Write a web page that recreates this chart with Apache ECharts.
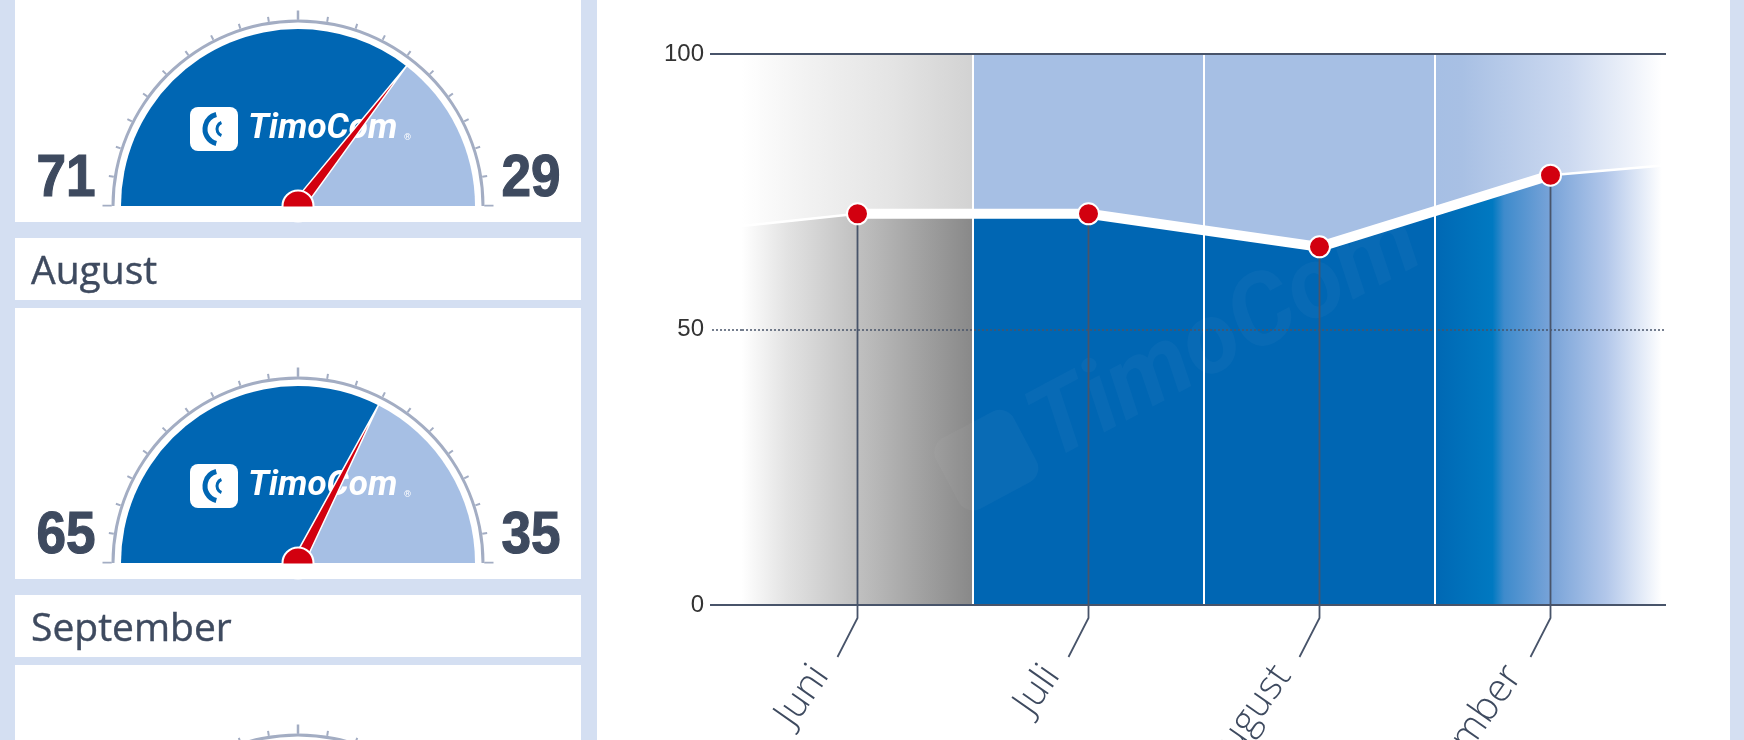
<!DOCTYPE html>
<html><head><meta charset="utf-8">
<script src="https://cdn.jsdelivr.net/npm/echarts@6/dist/echarts.min.js"></script>
<style>html,body{margin:0;padding:0;background:#fff}#c{width:1744px;height:740px}</style>
</head><body><div id="c"></div>
<script>
// ---------- data ----------
const months = ['Juni', 'Juli', 'August', 'September'];
const shareValues = [71, 71, 65, 78];      // line points (%)
const edgeValues = [68.8, 79.8];           // boundary value where it leaves the plot (left, right)
const gaugeLeft = [71, 71, 65, 78];        // big number left of each gauge
const gaugeRight = [29, 29, 35, 22];       // big number right of each gauge
const yTickValues = [0, 50, 100];

// ---------- styling ----------
const DARK = '#0066b3', LIGHT = '#a6bfe4', LAV = '#d4dff2', TXT = '#3e4a5f',
      RED = '#d2000f', AXIS = '#48546a', ARC = '#a3adc3';
const GX = 298;
function hdrTop(k) { return 238 + (k - 2) * 357; }

const LG = (stops) => new echarts.graphic.LinearGradient(0, 0, 1, 0,
  stops.map(s => ({ offset: s[0], color: s[1] })));
const bandStyles = [
  { top: LG([[0, '#ffffff'], [0.3, '#f1f1f1'], [0.65, '#e4e4e4'], [1, '#d2d2d2']]),
    bottom: LG([[0, '#ffffff'], [0.2, '#e2e2e2'], [0.5, '#c0c0c0'], [1, '#888888']]) },
  { top: LIGHT, bottom: DARK },
  { top: LIGHT, bottom: DARK },
  { top: LG([[0, '#a6bfe4'], [0.12, '#a8c0e4'], [0.58, '#ccd9f0'], [0.85, '#eef2fa'], [0.98, '#ffffff']]),
    bottom: LG([[0, '#0068b4'], [0.25, '#0079c1'], [0.3, '#3e8bcc'], [0.5, '#78a3d8'], [0.74, '#b2c7ea'], [0.98, '#ffffff']]) }
];

const chart = echarts.init(document.getElementById('c'));
const series = [];
const graphics = [];

graphics.push({ type: 'rect', z: 0, shape: { x: 0, y: 0, width: 597, height: 740 }, style: { fill: LAV } });
graphics.push({ type: 'rect', z: 0, shape: { x: 1730, y: 0, width: 14, height: 740 }, style: { fill: LAV } });

months.forEach((m, k) => {
  const ht = hdrTop(k);
  const cy = ht + 325;
  graphics.push({ type: 'rect', z: 0, shape: { x: 15, y: ht, width: 566, height: 62 }, style: { fill: '#fff' } });
  graphics.push({ type: 'rect', z: 0, shape: { x: 15, y: ht + 70, width: 566, height: 271 }, style: { fill: '#fff' } });
  graphics.push({ type: 'text', z: 1, x: 31, y: ht + 35, style: {
    text: m, fill: TXT, stroke: TXT, lineWidth: 0.4, font: '39px "Open Sans", sans-serif',
    textVerticalAlign: 'middle', verticalAlign: 'middle' } });
  // big numbers
  graphics.push({ type: 'text', z: 6, x: 66, y: cy - 26, scaleX: 0.9, style: {
    text: String(gaugeLeft[k]), fill: TXT, stroke: TXT, lineWidth: 1.2, font: 'bold 59px "Liberation Sans", Arial, sans-serif',
    textAlign: 'center', align: 'center', textVerticalAlign: 'middle', verticalAlign: 'middle' } });
  graphics.push({ type: 'text', z: 6, x: 531, y: cy - 26, scaleX: 0.9, style: {
    text: String(gaugeRight[k]), fill: TXT, stroke: TXT, lineWidth: 1.2, font: 'bold 59px "Liberation Sans", Arial, sans-serif',
    textAlign: 'center', align: 'center', textVerticalAlign: 'middle', verticalAlign: 'middle' } });
  // logo inside gauge
  graphics.push({ type: 'rect', z: 3, shape: { x: GX - 108, y: cy - 99, width: 48, height: 44, r: 8 }, style: { fill: '#fff' } });
  graphics.push({ type: 'arc', z: 3, shape: { cx: GX - 78, cy: cy - 77, r: 15, startAngle: Math.PI * 0.58, endAngle: Math.PI * 1.42, clockwise: true },
    style: { stroke: DARK, lineWidth: 5, fill: null } });
  graphics.push({ type: 'arc', z: 3, shape: { cx: GX - 74, cy: cy - 77, r: 7, startAngle: Math.PI * 0.62, endAngle: Math.PI * 1.38, clockwise: true },
    style: { stroke: DARK, lineWidth: 3, fill: null } });
  graphics.push({ type: 'text', z: 3, x: GX - 50, y: cy - 77, style: {
    text: 'TimoCom', fill: '#fff', font: 'italic bold 35px Roboto, sans-serif', textVerticalAlign: 'middle', verticalAlign: 'middle' } });
  graphics.push({ type: 'text', z: 3, x: GX + 106, y: cy - 68, style: {
    text: '®', fill: '#fff', font: '9px Roboto, sans-serif', textVerticalAlign: 'middle', verticalAlign: 'middle' } });
  graphics.push({ type: 'rect', z: 10, shape: { x: 15, y: cy + 0.5, width: 566, height: 15.5 }, style: { fill: '#fff' } });

  const common = { type: 'gauge', center: [GX, cy], startAngle: 180, endAngle: 0, min: 0, max: 100,
    silent: true, animation: false, axisLabel: { show: false } };
  series.push(Object.assign({}, common, {
    z: 2, radius: 177,
    axisLine: { show: true, lineStyle: { width: 177, color: [[gaugeLeft[k] / 100, DARK], [1, LIGHT]] } },
    splitLine: { show: false }, axisTick: { show: false }, pointer: { show: false }, anchor: { show: false },
    title: { show: false }, detail: { show: false }, data: [{ value: gaugeLeft[k] }]
  }));
  series.push(Object.assign({}, common, {
    z: 2, radius: 186.5, splitNumber: 2,
    axisLine: { show: true, lineStyle: { width: 3, color: [[1, ARC]] } },
    axisTick: { show: true, splitNumber: 10, length: 5, distance: -8, lineStyle: { color: ARC, width: 2 } },
    splitLine: { show: true, length: 9, distance: -12, lineStyle: { color: ARC, width: 2.5 } },
    pointer: { show: false }, anchor: { show: false }, title: { show: false }, detail: { show: false }, data: []
  }));
  series.push(Object.assign({}, common, {
    z: 5, radius: 178,
    axisLine: { show: false }, axisTick: { show: false }, splitLine: { show: false },
    pointer: { show: true, icon: 'path://M5,0 L10,100 L0,100 Z', length: '100%', width: 12, offsetCenter: [0, 0],
      itemStyle: { color: RED, borderColor: '#fff', borderWidth: 1.5 } },
    anchor: { show: true, showAbove: true, size: 31, itemStyle: { color: RED, borderColor: '#fff', borderWidth: 2 } },
    title: { show: false }, detail: { show: false },
    data: [{ value: gaugeLeft[k] }]
  }));
});

// faint watermark
graphics.push({ type: 'group', z: 2, x: 1215, y: 345, rotation: 0.49, children: [
  { type: 'rect', z: 2, shape: { x: -300, y: -46, width: 88, height: 80, r: 16 }, style: { fill: 'rgba(255,255,255,0.035)' } },
  { type: 'text', z: 2, x: -200, y: 0, style: { text: 'TimoCom', fill: 'rgba(255,255,255,0.03)',
    font: 'italic bold 100px Roboto, sans-serif', textVerticalAlign: 'middle', verticalAlign: 'middle' } }
] });

const n = months.length;
const pts = months.map((m, i) => [i, shareValues[i]]);

series.push({
  type: 'custom', z: 1, silent: true, animation: false, data: pts, encode: { x: 0, y: 1 },
  renderItem(params, api) {
    const i = api.value(0), v = api.value(1);
    const c = api.coord([i, v]);
    const w = api.size([1, 0])[0];
    const x0 = c[0] - w / 2, x1 = c[0] + w / 2;
    const yB = api.coord([i, 0])[1], yT = api.coord([i, 100])[1];
    const yL = i === 0 ? api.coord([i, edgeValues[0]])[1] : (api.coord([i - 1, shareValues[i - 1]])[1] + c[1]) / 2;
    const yR = i === n - 1 ? api.coord([i, edgeValues[1]])[1] : (api.coord([i + 1, shareValues[i + 1]])[1] + c[1]) / 2;
    const st = bandStyles[i];
    const children = [
      { type: 'polygon', shape: { points: [[x0 - 0.5, yT], [x1 + 0.5, yT], [x1 + 0.5, yR], c, [x0 - 0.5, yL]] }, style: { fill: st.top } },
      { type: 'polygon', shape: { points: [[x0 - 0.5, yL], c, [x1 + 0.5, yR], [x1 + 0.5, yB], [x0 - 0.5, yB]] }, style: { fill: st.bottom } }
    ];
    if (i === 0) children.push({ type: 'line', shape: { x1: x0, y1: yL, x2: c[0], y2: c[1] }, style: { stroke: '#fff', lineWidth: 2.5 } });
    if (i === n - 1) children.push({ type: 'line', shape: { x1: c[0], y1: c[1], x2: x1, y2: yR }, style: { stroke: '#fff', lineWidth: 2.5 } });
    return { type: 'group', children };
  }
});

series.push({
  type: 'custom', z: 4, silent: true, animation: false, clip: false, data: pts, encode: { x: 0, y: 1 },
  renderItem(params, api) {
    const c = api.coord([api.value(0), api.value(1)]);
    const b = api.coord([api.value(0), 0]);
    return { type: 'polyline', shape: { points: [c, b, [b[0], b[1] + 13], [b[0] - 20, b[1] + 52]] },
      style: { stroke: AXIS, lineWidth: 1.8, fill: null } };
  }
});

series.push({
  type: 'line', z: 6, silent: true, animation: false, data: shareValues,
  symbol: 'circle', symbolSize: 21,
  lineStyle: { color: '#fff', width: 10 },
  itemStyle: { color: RED, borderColor: '#fff', borderWidth: 2 }
});

chart.setOption({
  animation: false,
  backgroundColor: '#fff',
  grid: { left: 742, right: 78, top: 54, bottom: 135, containLabel: false, outerBoundsMode: 'none' },
  xAxis: {
    type: 'category', data: months, boundaryGap: true, z: 3,
    axisLine: { show: false }, axisTick: { show: false },
    splitLine: { show: true, interval: 0, showMinLine: false, showMaxLine: false, lineStyle: { color: '#fff', width: 2 } },
    axisLabel: { interval: 0, rotate: 55, margin: 12, padding: [0, 64, 0, 0], color: TXT, fontSize: 39,
      fontFamily: '"Open Sans", sans-serif', fontWeight: 300 }
  },
  yAxis: [
    { type: 'value', position: 'left', min: 0, max: 100, interval: 50, z: 3,
      axisLine: { show: false },
      axisTick: { show: true, length: 32, lineStyle: { color: AXIS, width: 1.5, type: [2, 2] } },
      splitLine: { show: true, lineStyle: { color: AXIS, width: 1.5, type: [2, 2] } },
      axisLabel: { margin: 38, color: '#333', fontSize: 24, fontFamily: '"Liberation Sans", Arial, sans-serif',
        formatter: v => (yTickValues.indexOf(v) >= 0 ? String(v) : '') } },
    { type: 'value', position: 'left', offset: 0, min: 0, max: 100, interval: 100, z: 4,
      axisLine: { show: false },
      axisTick: { show: true, length: 32, lineStyle: { color: AXIS, width: 2 } },
      splitLine: { show: true, lineStyle: { color: AXIS, width: 2 } },
      axisLabel: { show: false } }
  ],
  graphic: { elements: graphics },
  series
});
</script></body></html>
